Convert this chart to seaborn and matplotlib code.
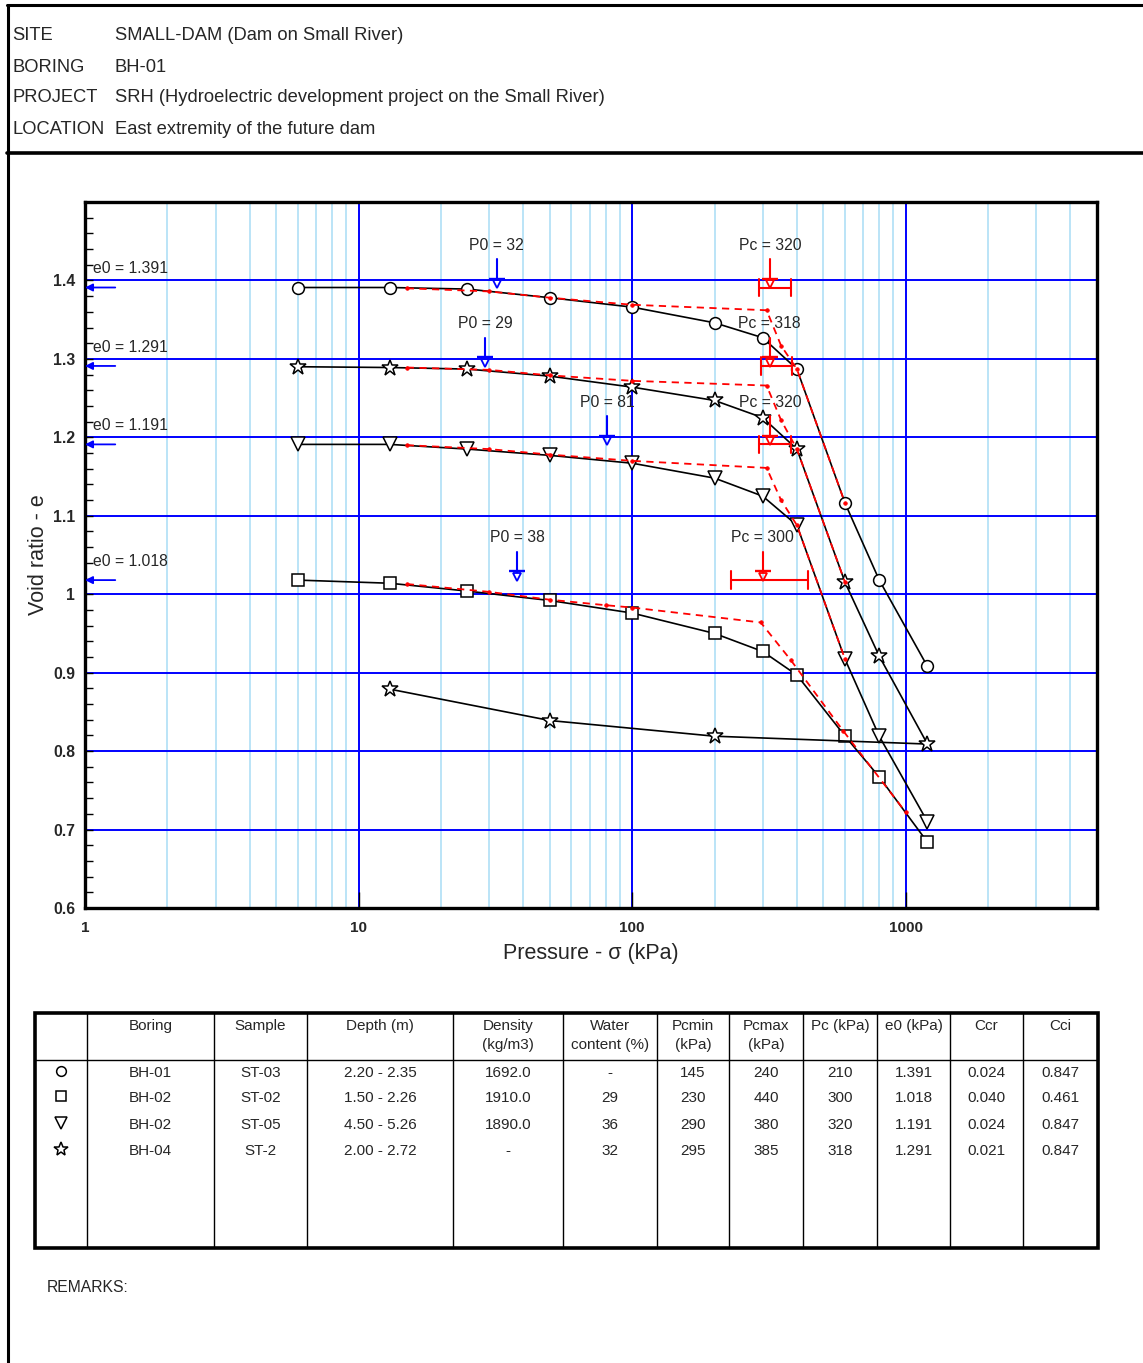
import numpy as np
import pandas as pd
import matplotlib
matplotlib.use("Agg")
import matplotlib.pyplot as plt
from matplotlib.patches import Rectangle
from matplotlib.ticker import FixedLocator, FixedFormatter, LogLocator, NullFormatter, MultipleLocator
import seaborn as sns

sns.set_style("white")
plt.rcParams['font.family'] = ['Liberation Sans', 'DejaVu Sans']

# ------------------------------------------------------------------ data
pressures = [6, 13, 25, 50, 100, 200, 300, 400, 600, 800, 1200]
e_circle = [1.391, 1.391, 1.389, 1.378, 1.366, 1.346, 1.327, 1.287, 1.116, 1.018, 0.908]
e_star = [1.290, 1.289, 1.287, 1.278, 1.264, 1.247, 1.225, 1.185, 1.015, 0.921, 0.809]
e_triangle = [1.191, 1.191, 1.185, 1.177, 1.167, 1.148, 1.125, 1.088, 0.917, 0.819, 0.710]
e_square = [1.018, 1.014, 1.004, 0.992, 0.976, 0.950, 0.927, 0.897, 0.819, 0.767, 0.684]
unload_p = [200, 50, 13]
unload_e_star = [0.819, 0.839, 0.879]

# red construction lines
red_circle_p = [15, 30, 50, 100, 310, 350, 400, 600]
red_circle_e = [1.390, 1.386, 1.378, 1.369, 1.362, 1.317, 1.287, 1.116]
red_star_p = [15, 30, 50, 100, 310, 350, 400, 600]
red_star_e = [1.289, 1.286, 1.279, 1.272, 1.266, 1.222, 1.185, 1.015]
red_tri_p = [15, 30, 50, 100, 310, 350, 400, 600]
red_tri_e = [1.190, 1.185, 1.178, 1.170, 1.161, 1.120, 1.088, 0.917]
red_sq_p = [15, 30, 50, 80, 100, 295, 380, 590, 1000]
red_sq_e = [1.013, 1.003, 0.993, 0.986, 0.983, 0.964, 0.916, 0.826, 0.722]

e0_values = [1.391, 1.291, 1.191, 1.018]
p0_values = [32, 29, 81, 38]
pc_values = [320, 318, 320, 300]
pc_min = [290, 295, 290, 230]
pc_max = [380, 385, 380, 440]

# table
boring = ['BH-01', 'BH-02', 'BH-02', 'BH-04']
sample = ['ST-03', 'ST-02', 'ST-05', 'ST-2']
depth = ['2.20 - 2.35', '1.50 - 2.26', '4.50 - 5.26', '2.00 - 2.72']
density = ['1692.0', '1910.0', '1890.0', '-']
water = ['-', '29', '36', '32']
pcmin_tab = ['145', '230', '290', '295']
pcmax_tab = ['240', '440', '380', '385']
pc_tab = ['210', '300', '320', '318']
e0_tab = ['1.391', '1.018', '1.191', '1.291']
ccr = ['0.024', '0.040', '0.024', '0.021']
cci = ['0.847', '0.461', '0.847', '0.847']
headers = ['Boring', 'Sample', 'Depth (m)', 'Density\n(kg/m3)', 'Water\ncontent (%)',
           'Pcmin\n(kPa)', 'Pcmax\n(kPa)', 'Pc (kPa)', 'e0 (kPa)', 'Ccr', 'Cci']

header_labels = ['SITE', 'BORING', 'PROJECT', 'LOCATION']
header_values = ['SMALL-DAM (Dam on Small River)', 'BH-01',
                 'SRH (Hydroelectric development project on the Small River)',
                 'East extremity of the future dam']

# ------------------------------------------------------------------ figure
W, H = 1143, 1363
fig = plt.figure(figsize=(W / 100, H / 100), dpi=100)
bg = fig.add_axes([0, 0, 1, 1], zorder=0)
bg.set_xlim(0, W)
bg.set_ylim(H, 0)
bg.axis('off')

# frame
bg.plot([7.5, 7.5], [4, H], color='black', lw=2.2, solid_capstyle='butt')
bg.plot([7, W], [5, 5], color='black', lw=2.2)
bg.plot([7, W], [153, 153], color='black', lw=2.6)

for i, (lab, val) in enumerate(zip(header_labels, header_values)):
    y = [35, 67, 97, 129][i]
    bg.text(12, y, lab, fontsize=13.2, va='center', ha='left')
    bg.text(115, y, val, fontsize=13.2, va='center', ha='left')

# ------------------------------------------------------------------ main plot
ax = fig.add_axes([85 / W, 1 - 908 / H, (1097 - 85) / W, (908 - 202) / H], zorder=2)
ax.set_xscale('log')
ax.set_xlim(1, 5000)
ax.set_ylim(0.6, 1.5)

curves = {
    'circle': (pressures, e_circle, 'o', 8.5),
    'square': (pressures, e_square, 's', 8.0),
    'triangle': (pressures, e_triangle, 'v', 10.0),
    'star': (pressures + unload_p, e_star + unload_e_star, '*', 12.0),
}
for name, (px, ey, mk, ms) in curves.items():
    df = pd.DataFrame({'pressure': px, 'void_ratio': ey})
    sns.lineplot(data=df, x='pressure', y='void_ratio', sort=False, estimator=None,
                 color='black', linewidth=1.2, marker=mk, markersize=ms,
                 markerfacecolor='white', markeredgecolor='black',
                 markeredgewidth=1.1, ax=ax, legend=False, zorder=4)

for rp, re in [(red_circle_p, red_circle_e), (red_star_p, red_star_e),
               (red_tri_p, red_tri_e), (red_sq_p, red_sq_e)]:
    df = pd.DataFrame({'pressure': rp, 'void_ratio': re})
    sns.lineplot(data=df, x='pressure', y='void_ratio', sort=False, estimator=None,
                 color='red', linewidth=1.3, linestyle=(0, (4, 3)), marker='o',
                 markersize=2.6, markerfacecolor='red', markeredgecolor='red',
                 markeredgewidth=0.5, ax=ax, legend=False, zorder=5)

# e0 arrows & labels
for e0 in e0_values:
    ax.annotate('', xy=(1.0, e0), xytext=(1.29, e0),
                arrowprops=dict(arrowstyle='-|>', color='blue', lw=1.3,
                                mutation_scale=11, shrinkA=0, shrinkB=0),
                annotation_clip=False, zorder=6)
    ax.text(1.07, e0 + 0.024, f'e0 = {e0:.3f}', fontsize=11.3, va='center', ha='left', zorder=6)


def marker_arrow(p, e0, color, label):
    ax.plot([p, p], [e0 + 0.036, e0 + 0.010], color=color, lw=1.5, zorder=6)
    ax.plot([p], [e0 + 0.011], marker='_', color=color, ms=12, mew=1.7, zorder=6)
    ax.plot([p], [e0 + 0.004], marker='v', mfc='none', mec=color, ms=6, mew=1.3, zorder=6)
    ax.text(p, e0 + 0.054, label, fontsize=11.3, ha='center', va='center', zorder=6)


for p0, e0 in zip(p0_values, e0_values):
    marker_arrow(p0, e0, 'blue', f'P0 = {p0}')
for pc, lo, hi, e0 in zip(pc_values, pc_min, pc_max, e0_values):
    marker_arrow(pc, e0, 'red', f'Pc = {pc}')
    ax.plot([lo, hi], [e0, e0], color='red', lw=1.5, zorder=6)
    for xx in (lo, hi):
        ax.plot([xx, xx], [e0 - 0.011, e0 + 0.011], color='red', lw=1.5, zorder=6)

# axes styling
ax.xaxis.set_major_locator(FixedLocator([1, 10, 100, 1000]))
ax.xaxis.set_major_formatter(FixedFormatter(['1', '10', '100', '1000']))
ax.xaxis.set_minor_locator(LogLocator(base=10, subs=np.arange(2, 10)))
ax.xaxis.set_minor_formatter(NullFormatter())
yt = [0.6, 0.7, 0.8, 0.9, 1.0, 1.1, 1.2, 1.3, 1.4]
ax.yaxis.set_major_locator(FixedLocator(yt))
ax.yaxis.set_major_formatter(FixedFormatter(['0.6', '0.7', '0.8', '0.9', '1', '1.1', '1.2', '1.3', '1.4']))
ax.yaxis.set_minor_locator(MultipleLocator(0.02))

ax.set_axisbelow(True)
ax.grid(which='major', color='#0000FF', lw=1.4)
ax.grid(which='minor', axis='x', color='#A8DCF5', lw=1.1)
ax.tick_params(axis='x', which='major', direction='in', length=11.5, width=1,
               color='black', pad=9, labelsize=11, bottom=True)
ax.tick_params(axis='x', which='minor', length=0)
ax.tick_params(axis='y', which='both', direction='in', length=6, width=1,
               color='black', pad=7, labelsize=11.3, left=True)
for lab in ax.get_xticklabels() + ax.get_yticklabels():
    lab.set_fontweight('bold')
for s in ax.spines.values():
    s.set_visible(True)
    s.set_color('black')
    s.set_linewidth(2.4)

ax.set_xlabel('Pressure - σ (kPa)', fontsize=15.5, labelpad=6)
ax.set_ylabel('Void ratio - e', fontsize=15.5, labelpad=3)

# ------------------------------------------------------------------ table
cols = [35, 87, 214, 307, 453, 563, 657, 729, 803, 877, 950, 1023, 1098]
top, sep, bot = 1013, 1060, 1248
for x in cols[1:-1]:
    bg.plot([x, x], [top, bot], color='black', lw=1.0)
bg.plot([cols[0], cols[-1]], [sep, sep], color='black', lw=1.0)
bg.add_patch(Rectangle((cols[0], top), cols[-1] - cols[0], bot - top,
                       fill=False, lw=2.6, ec='black'))

centers = [(a + b) / 2 for a, b in zip(cols[1:-1], cols[2:])]
for cx, h in zip(centers, headers):
    bg.text(cx, 1019, h, fontsize=11, ha='center', va='top', linespacing=1.45)

rows = [boring, sample, depth, density, water, pcmin_tab, pcmax_tab, pc_tab, e0_tab, ccr, cci]
row_y = [1073, 1098, 1125, 1151]
for cx, col in zip(centers, rows):
    for ry, val in zip(row_y, col):
        bg.text(cx, ry, val, fontsize=11, ha='center', va='center')

sym_x = (cols[0] + cols[1]) / 2
for ry, mk, ms in zip(row_y, ['o', 's', 'v', '*'], [7, 6.5, 8, 10]):
    bg.plot([sym_x], [ry - 2], marker=mk, ms=ms, mfc='white', mec='black', mew=1.1)

bg.text(47, 1287, 'REMARKS:', fontsize=11.3, ha='left', va='center')

fig.savefig('out.png', dpi=100)
